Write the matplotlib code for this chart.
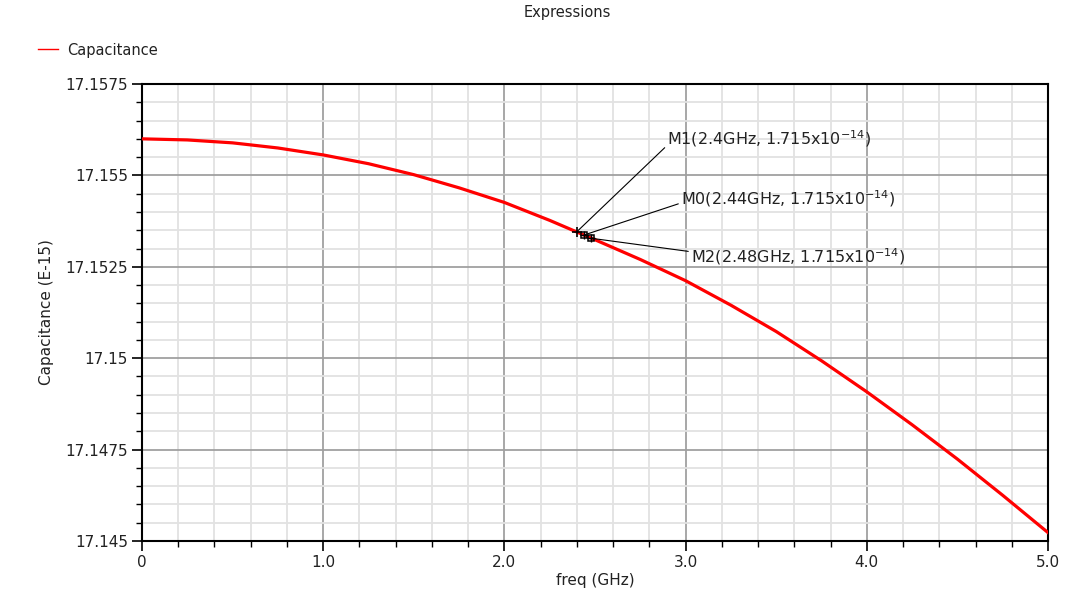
import matplotlib
matplotlib.use('Agg')
import matplotlib.pyplot as plt
from matplotlib.ticker import MultipleLocator, FixedLocator

# frequency (GHz) and capacitance (E-15)
freq = [0.0, 0.25, 0.5, 0.75, 1.0, 1.25, 1.5, 1.75, 2.0, 2.25, 2.5,
        2.75, 3.0, 3.25, 3.5, 3.75, 4.0, 4.25, 4.5, 4.75, 5.0]
capacitance = [17.15600, 17.15597, 17.15589, 17.15575, 17.15556, 17.15532,
               17.15502, 17.15466, 17.15426, 17.15377, 17.15324, 17.15270,
               17.15212, 17.15145, 17.15073, 17.14993, 17.14908, 17.14818,
               17.14724, 17.14625, 17.14523]

# markers
marker_names = ['M1', 'M0', 'M2']
marker_x = [2.4, 2.44, 2.48]
marker_y = [17.15346, 17.15337, 17.15328]
marker_labels = ['M1(2.4GHz, 1.715x10$^{-14}$)',
                 'M0(2.44GHz, 1.715x10$^{-14}$)',
                 'M2(2.48GHz, 1.715x10$^{-14}$)']
label_x = [2.90, 2.975, 3.03]
label_y = [17.15600, 17.15436, 17.15277]

x_ticks = [0, 1, 2, 3, 4, 5]
x_tick_labels = ['0', '1.0', '2.0', '3.0', '4.0', '5.0']
y_ticks = [17.145, 17.1475, 17.15, 17.1525, 17.155, 17.1575]
y_tick_labels = ['17.145', '17.1475', '17.15', '17.1525', '17.155', '17.1575']

fig = plt.figure(figsize=(10.68, 5.92), dpi=100)
ax = fig.add_axes([142 / 1068, 51 / 592, 906 / 1068, 457 / 592])

line, = ax.plot(freq, capacitance, color='#ff0000', lw=2.3, label='Capacitance', zorder=3)

ax.set_xlim(0, 5)
ax.set_ylim(17.145, 17.1575)
ax.xaxis.set_major_locator(FixedLocator(x_ticks))
ax.set_xticklabels(x_tick_labels)
ax.xaxis.set_minor_locator(MultipleLocator(0.2))
ax.yaxis.set_major_locator(FixedLocator(y_ticks))
ax.set_yticklabels(y_tick_labels)
ax.yaxis.set_minor_locator(MultipleLocator(0.0005))

ax.grid(which='minor', color='#e2e2e2', lw=1.3, zorder=0)
ax.grid(which='major', color='#a0a0a0', lw=1.3, zorder=1)
ax.set_axisbelow(True)

ax.tick_params(which='major', direction='out', length=7, width=1.2, labelsize=11,
               colors='black', labelcolor='#222222', pad=3)
ax.tick_params(which='minor', direction='out', length=4, width=1.0, colors='black')
for s in ax.spines.values():
    s.set_linewidth(1.5)
    s.set_color('black')

ax.set_xlabel('freq (GHz)', fontsize=11, labelpad=2, color='#222222')
ax.set_ylabel('Capacitance (E-15)', fontsize=11, labelpad=8, color='#222222',
              family=['Liberation Sans Narrow', 'DejaVu Sans'])

fig.text(567 / 1068, 1 - 13 / 592, 'Expressions', ha='center', va='center',
         fontsize=10.5, color='#222222')

# marker glyphs
ax.plot(marker_x[:1], marker_y[:1], marker='+', color='black', ms=7, mew=1.2, ls='none', zorder=4)
ax.plot(marker_x[1:], marker_y[1:], marker='s', mfc='none', mec='black', ms=4, mew=1.1,
        ls='none', zorder=4)
ax.plot(marker_x[1:], marker_y[1:], marker='+', color='black', ms=6, mew=1.0, ls='none', zorder=4)

relpos = [(0.0, 0.2), (0.0, 0.3), (0.0, 0.75)]
for i in range(len(marker_names)):
    ax.annotate(marker_labels[i], xy=(marker_x[i], marker_y[i]),
                xytext=(label_x[i], label_y[i]), ha='left', va='center',
                fontsize=11.5, color='#222222',
                arrowprops=dict(arrowstyle='-', color='black', lw=0.8,
                                shrinkA=0, shrinkB=0, relpos=relpos[i]),
                zorder=5)

leg = ax.legend(handles=[line], loc='center left', bbox_to_anchor=(38 / 1068, 1 - 50 / 592),
                bbox_transform=fig.transFigure, frameon=False, fontsize=10.5,
                borderpad=0, borderaxespad=0, handlelength=1.4, handletextpad=0.6)
leg.get_lines()[0].set_linewidth(1.0)
for t in leg.get_texts():
    t.set_color('#222222')

fig.savefig('out.png', dpi=100)
